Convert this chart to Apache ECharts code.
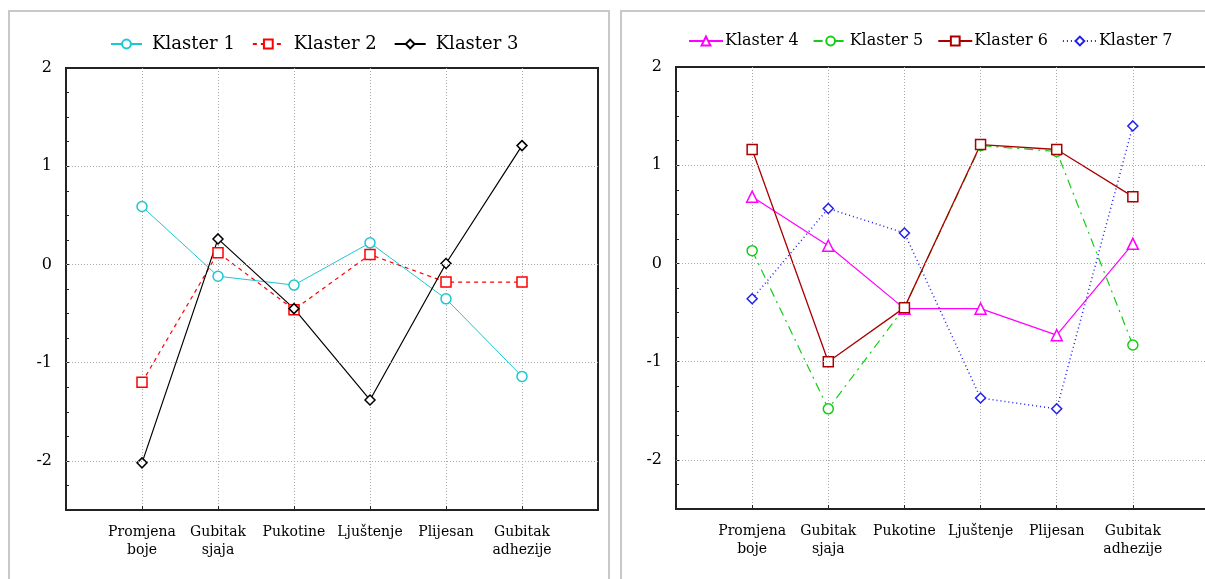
<!DOCTYPE html>
<html><head><meta charset="utf-8">
<script src="https://cdn.jsdelivr.net/npm/echarts@6/dist/echarts.min.js"></script>
<style>html,body{margin:0;padding:0;background:#fff}#c{width:1205px;height:579px}</style>
</head><body><div id="c"></div>
<script>
const categories = ['Promjena\nboje','Gubitak\nsjaja','Pukotine','Ljuštenje','Plijesan','Gubitak\nadhezije'];
const yTickLabels = [-2,-1,0,1,2];
const klaster1 = [0.59,-0.12,-0.21,0.22,-0.35,-1.14];
const klaster2 = [-1.20,0.12,-0.46,0.10,-0.18,-0.18];
const klaster3 = [-2.02,0.26,-0.45,-1.38,0.01,1.21];
const klaster4 = [0.68,0.18,-0.46,-0.46,-0.73,0.20];
const klaster5 = [0.13,-1.48,-0.45,1.20,1.14,-0.83];
const klaster6 = [1.16,-1.00,-0.45,1.21,1.16,0.68];
const klaster7 = [-0.36,0.56,0.31,-1.37,-1.48,1.40];

const FONT = 'DejaVu Serif';
const AX = '#222';

function xAx(g){
  return {type:'value', gridIndex:g, min:0, max:7, interval:1,
    axisLine:{show:true, onZero:false, lineStyle:{color:AX, width:2}},
    axisTick:{show:true, inside:true, length:4, lineStyle:{color:AX, width:1}},
    axisLabel:{formatter:v=>categories[v-1]||'', fontFamily:FONT, fontSize:14, color:'#000', lineHeight:18, margin:13},
    splitLine:{show:true, showMinLine:false, showMaxLine:false, lineStyle:{type:[1,2], color:'#a8a8a8', width:1}}};
}
function yAx(g){
  return {type:'value', gridIndex:g, min:-2.5, max:2, interval:0.5,
    axisLine:{show:true, onZero:false, lineStyle:{color:AX, width:2}},
    axisTick:{show:true, inside:true, length:3, lineStyle:{color:AX, width:1}},
    minorTick:{show:true, splitNumber:2, length:3, lineStyle:{color:AX, width:1}},
    axisLabel:{formatter:v=>yTickLabels.includes(v)?String(v):'', fontFamily:FONT, fontSize:16, color:'#000', margin:14},
    splitLine:{show:false}};
}
function gridLines(g){
  return {type:'line', xAxisIndex:g, yAxisIndex:g, data:[], silent:true, z:1,
    markLine:{silent:true, symbol:'none', label:{show:false}, animation:false,
      lineStyle:{type:[1,2], color:'#a8a8a8', width:1},
      data:yTickLabels.filter(v=>v<2).map(v=>({yAxis:v}))}};
}
function ser(name, vals, g, color, symbol, lineType, size, lw){
  return {type:'line', name:name, xAxisIndex:g, yAxisIndex:g, z:3,
    data:vals.map((v,i)=>[i+1,v]), symbol:symbol, symbolSize:size, showSymbol:true,
    lineStyle:{color:color, width:lw||1, type:lineType},
    itemStyle:{color:'#fff', borderColor:color, borderWidth:1.5}};
}

const chart = echarts.init(document.getElementById('c'), null, {renderer:'canvas'});
chart.setOption({
  animation:false,
  backgroundColor:'#fff',
  graphic:[
    {type:'rect', shape:{x:9,y:11,width:600,height:620}, style:{fill:'none', stroke:'#c8c8c8', lineWidth:2}, silent:true},
    {type:'rect', shape:{x:621,y:11,width:620,height:620}, style:{fill:'none', stroke:'#c8c8c8', lineWidth:2}, silent:true}
  ],
  legend:[
    {data:['Klaster 1','Klaster 2','Klaster 3'], left:105, top:30, itemWidth:31, itemHeight:11, itemGap:17,
     textStyle:{fontFamily:FONT, fontSize:18, color:'#000', padding:[0,0,0,5]}},
    {data:['Klaster 4','Klaster 5','Klaster 6','Klaster 7'], left:683, top:28, itemWidth:34, itemHeight:11, itemGap:14,
     textStyle:{fontFamily:FONT, fontSize:16, color:'#000', padding:[0,0,0,-3]}}
  ],
  grid:[
    {left:66, top:68, width:532, height:442, show:true, borderColor:AX, borderWidth:2, outerBoundsMode:'none'},
    {left:676, top:67, width:533, height:442, show:true, borderColor:AX, borderWidth:2, outerBoundsMode:'none'}
  ],
  xAxis:[xAx(0), xAx(1)],
  yAxis:[yAx(0), yAx(1)],
  series:[
    gridLines(0), gridLines(1),
    ser('Klaster 1', klaster1, 0, '#1cc8d0', 'circle', 'solid', 10, 1),
    ser('Klaster 2', klaster2, 0, '#ff0000', 'rect', [4,4], 10, 1.2),
    ser('Klaster 3', klaster3, 0, '#000000', 'diamond', 'solid', 10, 1.2),
    ser('Klaster 4', klaster4, 1, '#ff00ff', 'triangle', 'solid', 11, 1.2),
    ser('Klaster 5', klaster5, 1, '#16cc16', 'circle', [9,5,2,5], 10, 1.2),
    ser('Klaster 6', klaster6, 1, '#aa0000', 'rect', 'solid', 10, 1.3),
    ser('Klaster 7', klaster7, 1, '#2020ee', 'diamond', [1,3], 10, 1.5)
  ]
});
</script></body></html>
